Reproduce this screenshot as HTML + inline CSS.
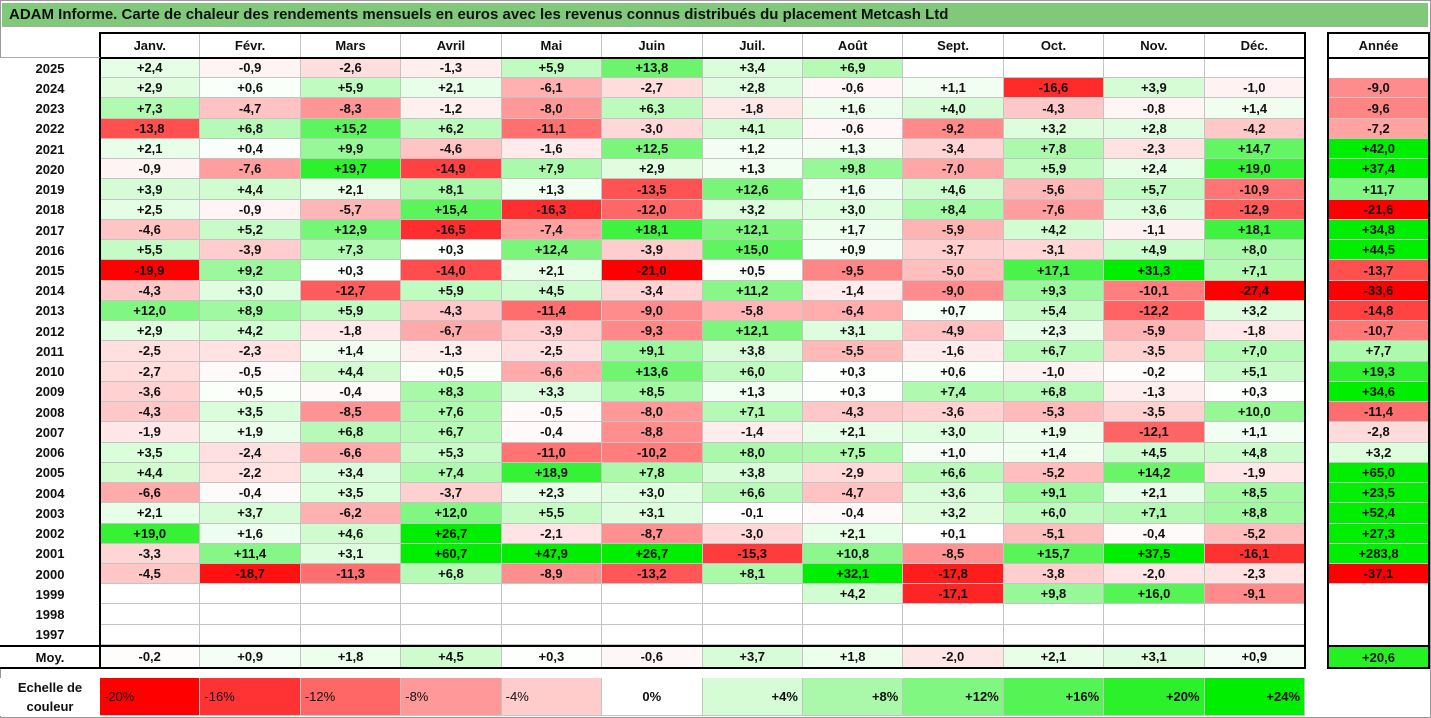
<!DOCTYPE html>
<html><head><meta charset="utf-8">
<style>
body{margin:0;width:1431px;height:718px;position:relative;background:#fff;font-family:"Liberation Sans",Arial,sans-serif;overflow:hidden}
.c{position:absolute;box-sizing:border-box;font-weight:bold;font-size:13px;color:#111;display:flex;align-items:center;justify-content:center;white-space:nowrap}
.ln{position:absolute;background:#000}
</style></head><body>
<div style="position:absolute;left:0;top:0;width:1431px;height:718px;box-sizing:border-box;border:1px solid #999"></div>
<div style="position:absolute;left:2px;top:3px;width:1426px;height:24px;background:#80c97a;border-bottom:1px solid #aaa;font-weight:bold;font-size:15px;line-height:24px;padding-left:7px;box-sizing:border-box;color:#111">ADAM Informe. Carte de chaleur des rendements mensuels en euros avec les revenus connus distribués du placement Metcash Ltd</div>
<div id="grid"></div>
<script>
const months=["Janv.","Févr.","Mars","Avril","Mai","Juin","Juil.","Août","Sept.","Oct.","Nov.","Déc."];
const years=[2025,2024,2023,2022,2021,2020,2019,2018,2017,2016,2015,2014,2013,2012,2011,2010,2009,2008,2007,2006,2005,2004,2003,2002,2001,2000,1999,1998,1997];
const N=null;
const monthly=[
[2.4,-0.9,-2.6,-1.3,5.9,13.8,3.4,6.9,N,N,N,N],
[2.9,0.6,5.9,2.1,-6.1,-2.7,2.8,-0.6,1.1,-16.6,3.9,-1.0],
[7.3,-4.7,-8.3,-1.2,-8.0,6.3,-1.8,1.6,4.0,-4.3,-0.8,1.4],
[-13.8,6.8,15.2,6.2,-11.1,-3.0,4.1,-0.6,-9.2,3.2,2.8,-4.2],
[2.1,0.4,9.9,-4.6,-1.6,12.5,1.2,1.3,-3.4,7.8,-2.3,14.7],
[-0.9,-7.6,19.7,-14.9,7.9,2.9,1.3,9.8,-7.0,5.9,2.4,19.0],
[3.9,4.4,2.1,8.1,1.3,-13.5,12.6,1.6,4.6,-5.6,5.7,-10.9],
[2.5,-0.9,-5.7,15.4,-16.3,-12.0,3.2,3.0,8.4,-7.6,3.6,-12.9],
[-4.6,5.2,12.9,-16.5,-7.4,18.1,12.1,1.7,-5.9,4.2,-1.1,18.1],
[5.5,-3.9,7.3,0.3,12.4,-3.9,15.0,0.9,-3.7,-3.1,4.9,8.0],
[-19.9,9.2,0.3,-14.0,2.1,-21.0,0.5,-9.5,-5.0,17.1,31.3,7.1],
[-4.3,3.0,-12.7,5.9,4.5,-3.4,11.2,-1.4,-9.0,9.3,-10.1,-27.4],
[12.0,8.9,5.9,-4.3,-11.4,-9.0,-5.8,-6.4,0.7,5.4,-12.2,3.2],
[2.9,4.2,-1.8,-6.7,-3.9,-9.3,12.1,3.1,-4.9,2.3,-5.9,-1.8],
[-2.5,-2.3,1.4,-1.3,-2.5,9.1,3.8,-5.5,-1.6,6.7,-3.5,7.0],
[-2.7,-0.5,4.4,0.5,-6.6,13.6,6.0,0.3,0.6,-1.0,-0.2,5.1],
[-3.6,0.5,-0.4,8.3,3.3,8.5,1.3,0.3,7.4,6.8,-1.3,0.3],
[-4.3,3.5,-8.5,7.6,-0.5,-8.0,7.1,-4.3,-3.6,-5.3,-3.5,10.0],
[-1.9,1.9,6.8,6.7,-0.4,-8.8,-1.4,2.1,3.0,1.9,-12.1,1.1],
[3.5,-2.4,-6.6,5.3,-11.0,-10.2,8.0,7.5,1.0,1.4,4.5,4.8],
[4.4,-2.2,3.4,7.4,18.9,7.8,3.8,-2.9,6.6,-5.2,14.2,-1.9],
[-6.6,-0.4,3.5,-3.7,2.3,3.0,6.6,-4.7,3.6,9.1,2.1,8.5],
[2.1,3.7,-6.2,12.0,5.5,3.1,-0.1,-0.4,3.2,6.0,7.1,8.8],
[19.0,1.6,4.6,26.7,-2.1,-8.7,-3.0,2.1,0.1,-5.1,-0.4,-5.2],
[-3.3,11.4,3.1,60.7,47.9,26.7,-15.3,10.8,-8.5,15.7,37.5,-16.1],
[-4.5,-18.7,-11.3,6.8,-8.9,-13.2,8.1,32.1,-17.8,-3.8,-2.0,-2.3],
[N,N,N,N,N,N,N,4.2,-17.1,9.8,16.0,-9.1],
[N,N,N,N,N,N,N,N,N,N,N,N],
[N,N,N,N,N,N,N,N,N,N,N,N]];
const annual=[N,-9.0,-9.6,-7.2,42.0,37.4,11.7,-21.6,34.8,44.5,-13.7,-33.6,-14.8,-10.7,7.7,19.3,34.6,-11.4,-2.8,3.2,65.0,23.5,52.4,27.3,283.8,-37.1,N,N,N];
const averages=[-0.2,0.9,1.8,4.5,0.3,-0.6,3.7,1.8,-2.0,2.1,3.1,0.9];
const averageYear=20.6;
const scaleSteps=[-20,-16,-12,-8,-4,0,4,8,12,16,20,24];

const X0=100,CW=100.42,YX=1328,YW=101,HT=33,HH=25,R0=58,RH=20.24,MT=646,MH=22,ST=678,SH=38;
const colX=i=>X0+i*CW, rowY=r=>R0+r*RH;
function color(v){
  if(v==null) return '#fff';
  if(v<0){const t=Math.min(-v/20,1);const g=Math.round(255*(1-t));return `rgb(255,${g},${g})`;}
  const t=Math.min(v/24,1);const g=Math.round(255*(1-t));return `rgb(${g},${Math.round(255-17*t)},${g})`;
}
const fmt=v=>v==null?'':(v>0?'+':v<0?'-':'')+Math.abs(v).toFixed(1).replace('.',',');
const grid=document.getElementById('grid');
function cell(x,y,w,h,txt,bg,name,extra){
  const d=document.createElement('div');d.className='c';
  
  
  d.style.cssText+=`left:${x}px;top:${y}px;width:${w}px;height:${h}px;background:${bg};`+(extra||'');
  d.textContent=txt;grid.appendChild(d);return d;
}
function line(x,y,w,h,c){const d=document.createElement('div');d.className='ln';
  
  
  d.style.cssText+=`left:${x}px;top:${y}px;width:${w}px;height:${h}px;`+(c?`background:${c};`:'');grid.appendChild(d);}
const gb='border-right:1px solid #c4c4c4;border-bottom:1px solid #c4c4c4;';
months.forEach((m,i)=>cell(colX(i),HT,CW,HH,m,'#fff','month-header',gb));
cell(YX,HT,YW,HH,'Année','#fff','year-total-header');
years.forEach((y,r)=>{
  cell(0,rowY(r),X0,RH,String(y),'#fff','year-label','');
  monthly[r].forEach((v,i)=>cell(colX(i),rowY(r),CW,RH,fmt(v),color(v),'heat-cell',gb));
  cell(YX,rowY(r),YW,RH,fmt(annual[r]),color(annual[r]),'annual-cell',annual[r]==null?'':'border-bottom:1px solid #c4c4c4;');
});
cell(0,MT,X0,MH,'Moy.','#fff','average-label');
averages.forEach((v,i)=>cell(colX(i),MT,CW,MH,fmt(v),color(v),'average-cell',gb));
cell(YX,MT,YW,MH,fmt(averageYear),color(averageYear),'average-year-cell');
cell(0,ST,X0,SH,'Echelle de\ncouleur','#fff','color-scale-label','white-space:pre;text-align:center;line-height:19px;');
scaleSteps.forEach((s,i)=>{
  const al=s<0?'justify-content:flex-start;padding-left:4px;':s>0?'justify-content:flex-end;padding-right:4px;':'';
  cell(colX(i),ST,CW,SH,(s>0?'+':s<0?'-':'')+Math.abs(s)+'%',color(s),'color-scale-step',gb+'font-weight:'+(s<0?'normal':'bold')+';'+al);
});
const RX=colX(12);
line(X0-1,HT-1,RX-X0+2,2);line(X0-1,R0-1,RX-X0+2,2);line(0,MT-1,RX+1,2);line(0,MT+MH-1,RX+1,2);
line(X0-1,HT-1,2,MT+MH-HT+1);line(RX-1,HT-1,2,MT+MH-HT+1);
line(YX-1,HT-1,YW+2,2);line(YX-1,R0-1,YW+2,2);line(YX-1,MT-1,YW+2,2);line(YX-1,MT+MH-1,YW+2,2);
line(YX-1,HT-1,2,MT+MH-HT+1);line(YX+YW-1,HT-1,2,MT+MH-HT+1);
line(0,R0-1,X0,1,'#aaa');
</script>
</body></html>
